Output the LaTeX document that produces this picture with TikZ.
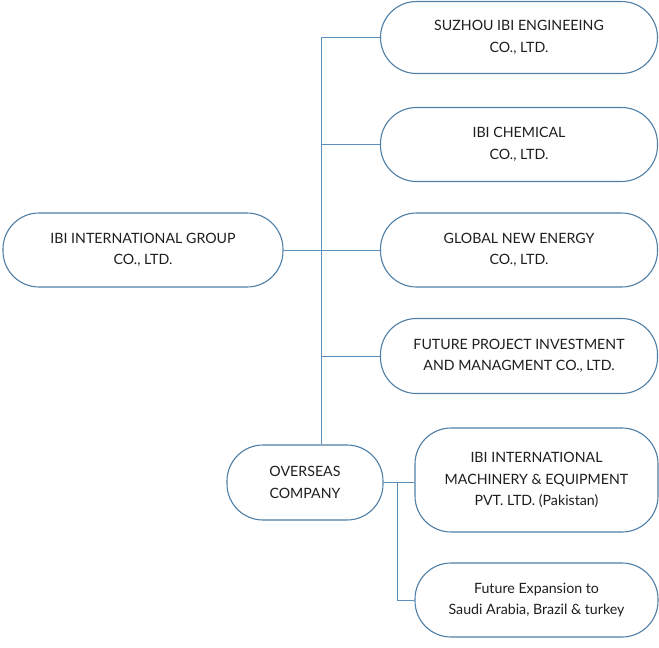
\documentclass[tikz,border=0pt]{standalone}
\usepackage{fontspec}
\setmainfont{Lato}
\definecolor{edge}{HTML}{4F7FA6}
\definecolor{link}{HTML}{5A8FC0}
\definecolor{txt}{HTML}{1E1E1E}
\begin{document}
\begin{tikzpicture}[x=1pt,y=-1pt,
  box/.style={draw=edge,line width=1.1pt,rounded corners=36pt,fill=white,
    align=center,text=txt,font=\fontsize{14.2}{21.5}\selectfont,inner sep=0pt},
  conn/.style={draw=link,line width=1pt}]
\useasboundingbox (0,0) rectangle (659,648);
\node[box,minimum width=280pt,minimum height=74pt] (root) at (143,250) {IBI INTERNATIONAL GROUP\\CO., LTD.};
\node[box,minimum width=277pt,minimum height=72pt] (n1) at (519,37.5) {SUZHOU IBI ENGINEEING\\CO., LTD.};
\node[box,minimum width=277pt,minimum height=74pt] (n2) at (519,144.5) {IBI CHEMICAL\\CO., LTD.};
\node[box,minimum width=277pt,minimum height=74pt] (n3) at (519,250) {GLOBAL NEW ENERGY\\CO., LTD.};
\node[box,minimum width=277pt,minimum height=75pt] (n4) at (519,356) {FUTURE PROJECT INVESTMENT\\AND MANAGMENT CO., LTD.};
\node[box,minimum width=156pt,minimum height=75pt] (ov) at (305,482.5) {OVERSEAS\\COMPANY};
\node[box,minimum width=243pt,minimum height=104pt] (pk) at (536.5,480) {IBI INTERNATIONAL\\MACHINERY \& EQUIPMENT\\PVT. LTD. (Pakistan)};
\node[box,minimum width=243pt,minimum height=74pt] (fe) at (536.5,600) {Future Expansion to\\Saudi Arabia, Brazil \& turkey};
\coordinate (tr) at (321,0);
\coordinate (br) at (397,0);
\draw[conn] (tr |- n1.west) -- (tr |- ov.north);
\draw[conn] (root.east) -- (n3.west);
\draw[conn] (tr |- n1.west) -- (n1.west);
\draw[conn] (tr |- n2.west) -- (n2.west);
\draw[conn] (tr |- n4.west) -- (n4.west);
\draw[conn] (ov.east) -- (ov.east -| pk.west);
\draw[conn] (br |- ov.east) -- (br |- fe.west) -- (fe.west);
\end{tikzpicture}
\end{document}
